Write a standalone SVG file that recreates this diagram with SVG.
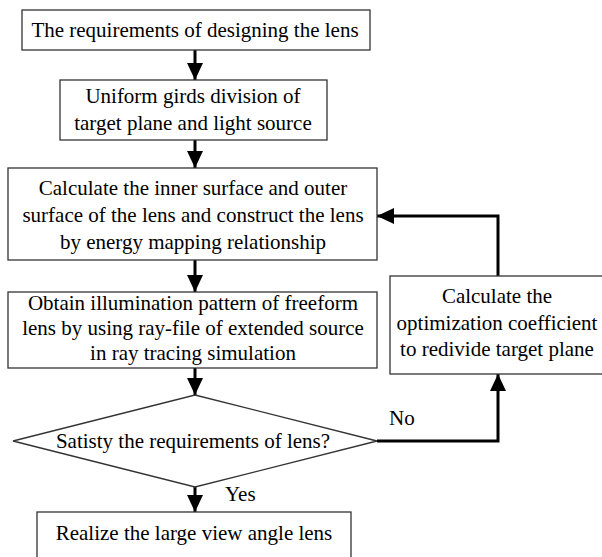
<svg xmlns="http://www.w3.org/2000/svg" width="602" height="557" viewBox="0 0 602 557">
<defs>
<style>
.box{fill:#fff;stroke:#333;stroke-width:1.3}
.t{font-family:'Liberation Serif','Times New Roman','DejaVu Serif',serif;font-size:21px;fill:#000;text-anchor:middle}
.lbl{font-family:'Liberation Serif','Times New Roman','DejaVu Serif',serif;font-size:21px;fill:#000}
.c{fill:none;stroke:#000;stroke-width:3}
</style>
<marker id="ah" markerUnits="userSpaceOnUse" markerWidth="18" markerHeight="18" viewBox="0 0 18 18" refX="17" refY="9" orient="auto">
<path d="M0,1 L17,9 L0,17 Z" fill="#000"/>
</marker>
</defs>
<rect width="602" height="557" fill="#fff"/>
<g id="connectors">
<line class="c" x1="195" y1="50" x2="195" y2="80" marker-end="url(#ah)"/>
<line class="c" x1="195" y1="140" x2="195" y2="168" marker-end="url(#ah)"/>
<line class="c" x1="195" y1="260" x2="195" y2="292" marker-end="url(#ah)"/>
<line class="c" x1="195" y1="368" x2="195" y2="395" marker-end="url(#ah)"/>
<line class="c" x1="195" y1="487" x2="195" y2="512" marker-end="url(#ah)"/>
<polyline class="c" points="377,441 498,441 498,374" marker-end="url(#ah)"/>
<polyline class="c" points="498,276 498,216 377,216" marker-end="url(#ah)"/>
<text class="lbl" x="389" y="425">No</text>
<text class="lbl" x="225" y="501">Yes</text>
</g>
<g id="n1">
<rect class="box" x="22" y="10" width="348" height="40"/>
<text class="t" x="195" y="37">The requirements of designing the lens</text>
</g>
<g id="n2">
<rect class="box" x="60" y="80" width="267" height="60"/>
<text class="t" x="193" y="103">Uniform girds division of</text>
<text class="t" x="193" y="130">target plane and light source</text>
</g>
<g id="n3">
<rect class="box" x="8" y="168" width="369" height="92"/>
<text class="t" x="193" y="195">Calculate the inner surface and outer</text>
<text class="t" x="193" y="222">surface of the lens and construct the lens</text>
<text class="t" x="193" y="249">by energy mapping relationship</text>
</g>
<g id="n4">
<rect class="box" x="8" y="292" width="369" height="76"/>
<text class="t" x="193" y="310">Obtain illumination pattern of freeform</text>
<text class="t" x="193" y="335">lens by using ray-file of extended source</text>
<text class="t" x="193" y="360">in ray tracing simulation</text>
</g>
<g id="n5">
<rect class="box" x="390" y="276" width="215" height="98"/>
<text class="t" x="497" y="303">Calculate the</text>
<text class="t" x="497" y="330">optimization coefficient</text>
<text class="t" x="497" y="356">to redivide target plane</text>
</g>
<g id="n6">
<polygon class="box" points="195,395 377,441 195,487 13,441"/>
<text class="t" x="193" y="448">Satisty the requirements of lens?</text>
</g>
<g id="n7">
<rect class="box" x="37" y="512" width="314" height="60"/>
<text class="t" x="194" y="540">Realize the large view angle lens</text>
</g>
</svg>
